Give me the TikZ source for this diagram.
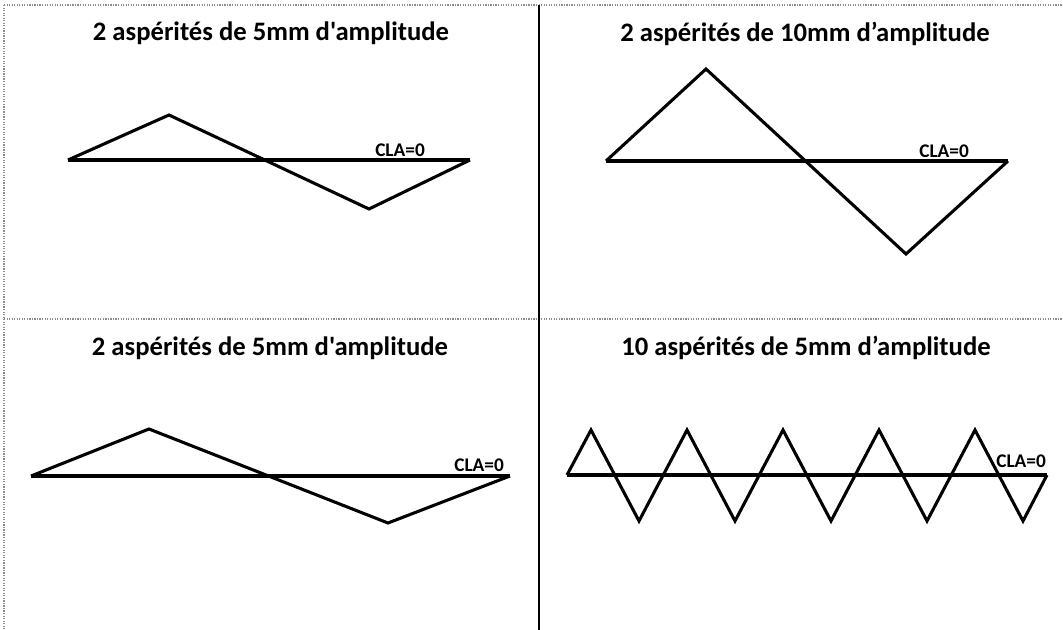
\documentclass[tikz,border=0pt]{standalone}
\usepackage{fontspec}
\newfontfamily\calfont{Carlito}[Ligatures=TeXOff]
\begin{document}
\begin{tikzpicture}[x=0.75pt,y=-0.75pt,
  frame/.style={draw=black!45,line width=0.9pt,densely dotted},
  divider/.style={draw=black,line width=1.3pt},
  curve/.style={draw=black,line width=2.3pt,line join=miter},
  base/.style={draw=black,line width=2.6pt},
  title/.style={anchor=base,inner sep=0pt,font=\calfont\bfseries\fontsize{20pt}{24pt}\selectfont},
  cla/.style={anchor=base west,inner sep=0pt,font=\calfont\bfseries\fontsize{14.5pt}{17pt}\selectfont}]
\useasboundingbox (0,0) rectangle (1063,630);
% frame and dividers
\coordinate (tl) at (4,5);
\coordinate (tr) at (1063,5);
\coordinate (bl) at (4,630);
\coordinate (ml) at (4,319);
\coordinate (mr) at (1063,319);
\coordinate (vt) at (539,5);
\coordinate (vb) at (539,630);
\draw[frame] (tl) -- (tr);
\draw[frame] (tl) -- (bl);
\draw[frame] (ml) -- (mr);
\draw[divider] (vt) -- (vb);
% titles
\node[title] (t1) at (271,41) {2 aspérités de 5mm d'amplitude};
\node[title] (t2) at (805,42) {2 aspérités de 10mm d’amplitude};
\node[title] (t3) at (270,356) {2 aspérités de 5mm d'amplitude};
\node[title] (t4) at (806,356) {10 aspérités de 5mm d’amplitude};
% panel 1
\coordinate (a0) at (68,160);
\coordinate (a1) at (169,115);
\coordinate (a2) at (369,209);
\coordinate (a3) at (470,160);
\draw[base] (a0) -- (a3);
\draw[curve] (a0) -- (a1) -- (a2) -- (a3);
\node[cla] (c1) at (375,157) {CLA=0};
% panel 2
\coordinate (b0) at (606,161);
\coordinate (b1) at (706,69);
\coordinate (b2) at (906,254);
\coordinate (b3) at (1008,161);
\draw[base] (b0) -- (b3);
\draw[curve] (b0) -- (b1) -- (b2) -- (b3);
\node[cla] (c2) at (919,158) {CLA=0};
% panel 3
\coordinate (d0) at (31,476);
\coordinate (d1) at (149,429);
\coordinate (d2) at (388,523);
\coordinate (d3) at (510,476);
\draw[base] (d0) -- (d3);
\draw[curve] (d0) -- (d1) -- (d2) -- (d3);
\node[cla] (c3) at (454,471) {CLA=0};
% panel 4
\coordinate (e0) at (567,475);
\coordinate (e1) at (1047,475);
\draw[base] (e0) -- (e1);
\draw[curve] (e0)
  \foreach \k in {0,...,4} { -- ({591+96*\k},430) -- ({639+96*\k},521) }
  -- (e1);
\node[cla] (c4) at (996,468) {CLA=0};
\end{tikzpicture}
\end{document}
